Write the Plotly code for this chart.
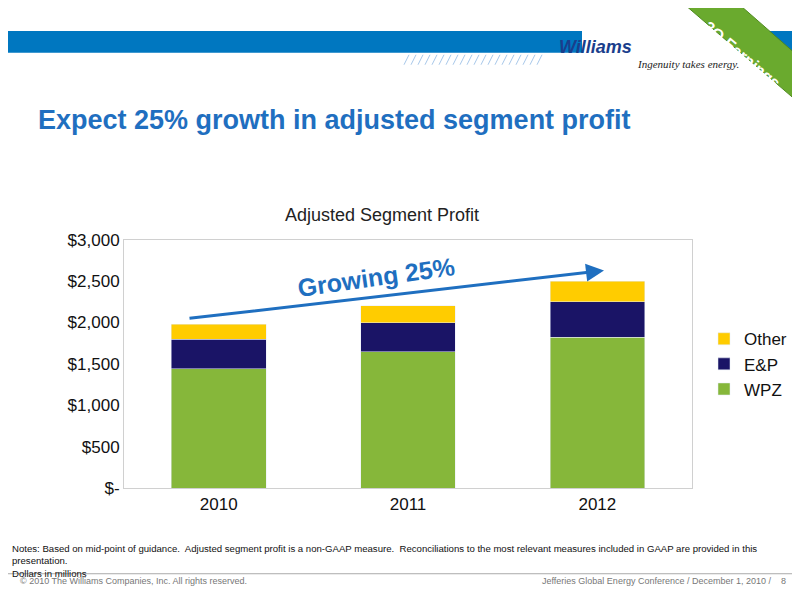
import plotly.graph_objects as go

years = ["2010", "2011", "2012"]
wpz = [1440, 1650, 1825]
ep = [360, 350, 425]
other = [180, 200, 250]
yticks = [0, 500, 1000, 1500, 2000, 2500, 3000]
yticklabels = ["$-", "$500", "$1,000", "$1,500", "$2,000", "$2,500", "$3,000"]

W, H = 800, 600
def px(x): return (x - 4) / W
def py(y): return 1 - ((y - 16) / 0.974) / H

fig = go.Figure()
fig.add_bar(x=years, y=wpz, name="WPZ", marker_color="#86B73A")
fig.add_bar(x=years, y=ep, name="E&P", marker_color="#1A1466")
fig.add_bar(x=years, y=other, name="Other", marker_color="#FFCC00")

shapes = [
    dict(type="rect", xref="paper", yref="paper", x0=-0.02, x1=px(578), y0=py(52), y1=py(30),
         fillcolor="#0077C0", line_width=0, layer="below"),
    dict(type="rect", xref="paper", yref="paper", x0=px(765), x1=1.02, y0=py(52), y1=py(30),
         fillcolor="#0077C0", line_width=0, layer="below"),
    dict(type="path", xref="paper", yref="paper", layer="below",
         path=f"M {px(665)} {py(-10)} L {px(720)} {py(-10)} L 1.02 {py(78)} L 1.02 {py(124)} Z",
         fillcolor="#6AAA2E", line=dict(color="#4E8A1E", width=1)),
    dict(type="line", xref="paper", yref="paper", x0=-0.02, x1=1.02, y0=py(576), y1=py(576),
         line=dict(color="#AAAAAA", width=1)),
]
for i in range(20):
    x = 400 + i * 7
    shapes.append(dict(type="line", xref="paper", yref="paper", x0=px(x), x1=px(x + 5),
                       y0=py(64), y1=py(54), line=dict(color="#A8C8EA", width=1)))

ann = [
    dict(text="<b>Expect 25% growth in adjusted segment profit</b>", x=px(32), y=py(120),
         xref="paper", yref="paper", xanchor="left", yanchor="middle", showarrow=False,
         font=dict(size=27, color="#1F6FC0", family="Liberation Sans")),
    dict(text="Adjusted Segment Profit", x=px(378), y=py(203), xref="paper", yref="paper",
         showarrow=False, font=dict(size=18, color="#222", family="Liberation Sans")),
    dict(text="<b><i>Williams</i></b>", x=px(630), y=py(34), xref="paper", yref="paper",
         showarrow=False, font=dict(size=18, color="#1A3E8C", family="Liberation Sans")),
    dict(text="<i>Ingenuity takes energy.</i>", x=px(737), y=py(55), xref="paper", yref="paper",
         xanchor="right", showarrow=False,
         font=dict(size=11, color="#222", family="Liberation Serif")),
    dict(text="<b>3Q Earnings</b>", x=px(782), y=py(14), xref="paper", yref="paper",
         showarrow=False, textangle=40,
         font=dict(size=16, color="#FFFFFF", family="Liberation Sans")),
    dict(text="", x=px(600), y=py(271), ax=-416, ay=48, xref="paper", yref="paper",
         axref="pixel", ayref="pixel", showarrow=True, arrowhead=2, arrowsize=1.2,
         arrowwidth=3, arrowcolor="#1F6FC0"),
    dict(text="<b>Growing 25%</b>", x=px(372), y=py(278), xref="paper", yref="paper",
         showarrow=False, textangle=-8, font=dict(size=25, color="#1F6FC0", family="Liberation Sans")),
    dict(text="Notes: Based on mid-point of guidance.  Adjusted segment profit is a non-GAAP measure.  Reconciliations to the most relevant measures included in GAAP are provided in this<br>presentation.<br>Dollars in millions",
         x=px(6), y=py(543), xref="paper", yref="paper", xanchor="left", yanchor="top",
         align="left", showarrow=False, font=dict(size=9.6, color="#111", family="Liberation Sans")),
    dict(text="© 2010 The Williams Companies, Inc. All rights reserved.", x=px(14), y=py(590),
         xref="paper", yref="paper", xanchor="left", showarrow=False,
         font=dict(size=9, color="#777", family="Liberation Sans")),
    dict(text="Jefferies Global Energy Conference / December 1, 2010 /    8", x=px(784), y=py(590),
         xref="paper", yref="paper", xanchor="right", showarrow=False,
         font=dict(size=9, color="#777", family="Liberation Sans")),
]

fig.update_layout(
    width=W, height=H, barmode="stack", bargap=0.5,
    paper_bgcolor="white", plot_bgcolor="white",
    margin=dict(l=0, r=0, t=0, b=0),
    font=dict(family="Liberation Sans", color="#111"),
    xaxis=dict(domain=[px(120), px(688)], showline=True, linecolor="#D0D0D0", mirror=True,
               tickfont=dict(size=17), ticks=""),
    yaxis=dict(domain=[py(490), py(240)], range=[0, 3000], tickvals=yticks, ticktext=yticklabels,
               showgrid=False, showline=True, linecolor="#D0D0D0", mirror=True, zeroline=False,
               tickfont=dict(size=17), ticks=""),
    legend=dict(x=px(700), y=py(322), xanchor="left", yanchor="top", traceorder="reversed",
                font=dict(size=17), itemwidth=30),
    showlegend=True, shapes=shapes, annotations=ann,
)
fig.write_html("out.html", config={"displayModeBar": False})
